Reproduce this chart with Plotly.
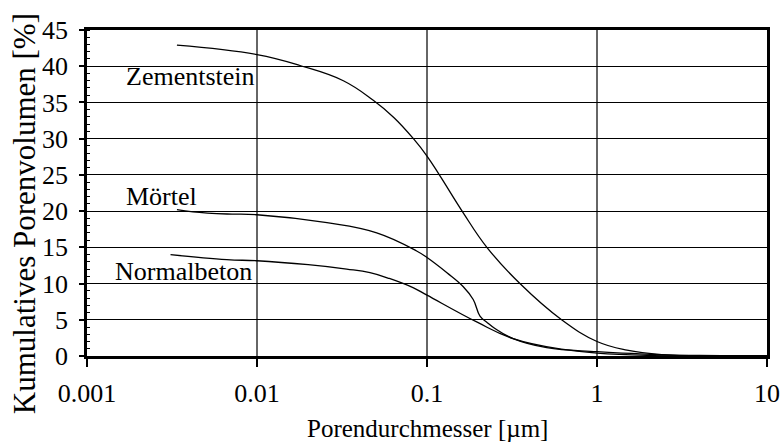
import numpy as np
import plotly.graph_objects as go

# Porendurchmesser [µm] und kumulatives Porenvolumen [%]
zement_d = [0.00338, 0.01, 0.0179, 0.0322, 0.0483, 0.0640, 0.0832, 0.1, 0.119, 0.163, 0.225, 0.352, 0.619, 1.0, 1.5, 2.4, 4.0, 10]
zement_v = [42.9, 41.6, 40.1, 38.0, 35.3, 32.9, 30.0, 27.6, 24.9, 19.8, 15.0, 10.0, 5.0, 2.0, 0.8, 0.2, 0.08, 0.05]

moertel_d = [0.00338, 0.0042, 0.00667, 0.01, 0.0258, 0.0506, 0.0869, 0.1, 0.131, 0.163, 0.187, 0.205, 0.224, 0.251, 0.321, 0.506, 1.0, 1.79, 3.0, 10]
moertel_v = [20.2, 19.9, 19.6, 19.5, 18.4, 17.0, 14.5, 13.6, 11.5, 9.6, 7.8, 5.5, 4.7, 3.8, 2.4, 1.15, 0.6, 0.3, 0.1, 0.05]

beton_d = [0.0031, 0.00664, 0.01, 0.02, 0.0337, 0.0462, 0.0600, 0.0833, 0.1, 0.196, 0.321, 0.634, 1.0, 1.96, 10]
beton_v = [14.0, 13.3, 13.15, 12.6, 12.0, 11.5, 10.7, 9.4, 8.4, 4.7, 2.4, 0.9, 0.4, 0.1, 0.05]

# Beschriftungen der Kurven: (Text, Durchmesser, Volumen)
kurven_labels = [
    ("Zementstein", 0.00165, 38.6),
    ("Mörtel", 0.00165, 22.0),
    ("Normalbeton", 0.00143, 11.7),
]

x_ticks = [0.001, 0.01, 0.1, 1, 10]
x_ticktext = ["0.001", "0.01", "0.1", "1", "10"]

FONT = "Liberation Serif"
FS = 26

fig = go.Figure()
for d, v, name in [(zement_d, zement_v, "Zementstein"),
                   (moertel_d, moertel_v, "Mörtel"),
                   (beton_d, beton_v, "Normalbeton")]:
    fig.add_trace(go.Scatter(
        x=d, y=v, mode="lines", name=name,
        line=dict(color="black", width=1.3, shape="spline", smoothing=1.2),
        showlegend=False, hoverinfo="x+y+name",
    ))

for text, d, v in kurven_labels:
    fig.add_annotation(
        x=np.log10(d), y=v, xref="x", yref="y", text=text,
        showarrow=False, xanchor="left", yanchor="middle",
        font=dict(family=FONT, size=FS, color="black"),
    )

# Achsentitel
fig.add_annotation(
    x=-0.0926, y=0.435, xref="paper", yref="paper",
    text="Kumulatives Porenvolumen [%]", textangle=-90,
    showarrow=False, xanchor="center", yanchor="middle",
    font=dict(family=FONT, size=31, color="black"),
)
fig.add_annotation(
    x=0.501, y=-0.222, xref="paper", yref="paper",
    text="Porendurchmesser [µm]",
    showarrow=False, xanchor="center", yanchor="middle",
    font=dict(family=FONT, size=25, color="black"),
)

fig.update_layout(
    width=782, height=445,
    margin=dict(l=87, r=15, t=30, b=89),
    paper_bgcolor="white", plot_bgcolor="white",
    font=dict(family=FONT, size=FS, color="black"),
    showlegend=False,
)

fig.update_xaxes(
    type="log", range=[-3, 1],
    tickvals=x_ticks, ticktext=x_ticktext,
    ticks="outside", ticklen=8, tickwidth=1.5, tickcolor="black",
    tickfont=dict(family=FONT, size=FS, color="black"),
    ticklabelstandoff=4,
    showgrid=True, gridcolor="#666666", gridwidth=2,
    showline=True, linecolor="black", linewidth=2.5, mirror=True,
    zeroline=False,
    automargin=False,
)

fig.update_yaxes(
    range=[0, 45], dtick=5,
    ticks="outside", ticklen=5, tickwidth=1.5, tickcolor="black",
    tickfont=dict(family=FONT, size=FS, color="black"),
    minor=dict(ticks="inside", dtick=1, ticklen=3, tickwidth=1, tickcolor="black", showgrid=False),
    showgrid=True, gridcolor="black", gridwidth=1.3,
    showline=True, linecolor="black", linewidth=2.5, mirror=True,
    zeroline=False,
    ticklabelstandoff=6,
    automargin=False,
)

fig.write_html("out.html")
